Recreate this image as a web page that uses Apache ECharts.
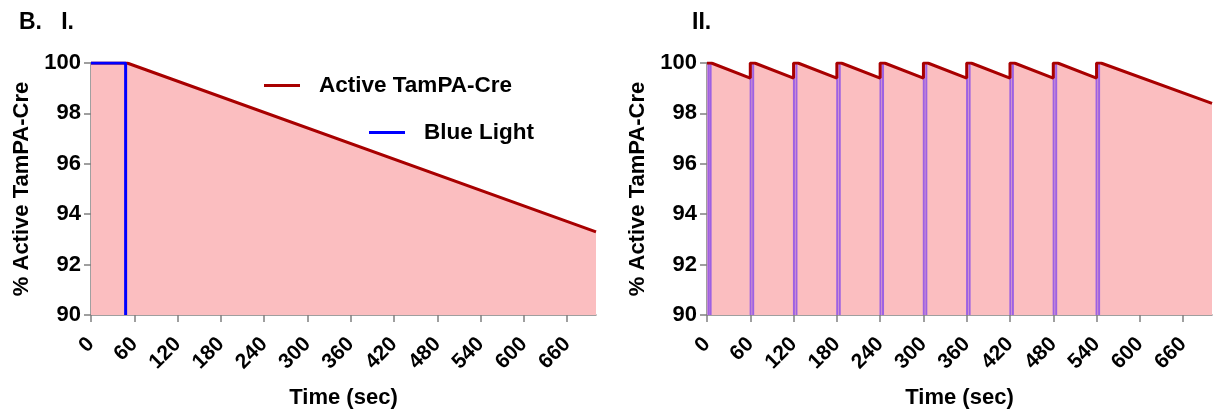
<!DOCTYPE html>
<html><head><meta charset="utf-8">
<script src="https://cdn.jsdelivr.net/npm/echarts@6/dist/echarts.min.js"></script>
<style>html,body{margin:0;padding:0;background:#fff}#c{width:1219px;height:416px}</style>
</head><body><div id="c"></div>
<script>
// ---- data ----
var xTicks = [0, 60, 120, 180, 240, 300, 360, 420, 480, 540, 600, 660];
var yTicks = [90, 92, 94, 96, 98, 100];
// Panel I: single light pulse
var activeI = [[0, 100], [50, 100], [700, 93.3]];
var blueI = [[0, 100], [48, 100], [48, 90]];
// Panel II: repeated light pulses
var activeII = [
  [0, 100], [6, 100], [60, 99.4], [60, 100], [66, 100], [120, 99.4], [120, 100], [126, 100],
  [180, 99.4], [180, 100], [186, 100], [240, 99.4], [240, 100], [246, 100], [300, 99.4],
  [300, 100], [306, 100], [360, 99.4], [360, 100], [366, 100], [420, 99.4], [420, 100],
  [426, 100], [480, 99.4], [480, 100], [486, 100], [540, 99.4], [540, 100], [546, 100],
  [700, 98.4]
];
// each pulse: rise, on, fall ('-' breaks the line between pulses)
var blueII = [
  [2, 90], [2, 100], [5, 100], [5, 90], '-',
  [60.5, 90], [60.5, 100], [64, 100], [64, 90], '-',
  [120.5, 90], [120.5, 100], [124, 100], [124, 90], '-',
  [180.5, 90], [180.5, 100], [184, 100], [184, 90], '-',
  [240.5, 90], [240.5, 100], [244, 100], [244, 90], '-',
  [300.5, 90], [300.5, 100], [304, 100], [304, 90], '-',
  [360.5, 90], [360.5, 100], [364, 100], [364, 90], '-',
  [420.5, 90], [420.5, 100], [424, 100], [424, 90], '-',
  [480.5, 90], [480.5, 100], [484, 100], [484, 90], '-',
  [540, 90], [540, 100], [543.5, 100], [543.5, 90]
];
var seriesNames = ['Active TamPA-Cre', 'Blue Light'];
var panelTitles = ['B.   I.', 'II.'];

// ---- chart ----
var FONT = 'Liberation Sans, Arial, sans-serif';
var RED = '#a80000', FILL = '#fbbec0', BLUE = '#0000ff', AXIS = '#808080';
var chart = echarts.init(document.getElementById('c'), null, {renderer: 'canvas'});
function xAxis(gi) {
  return {
    type: 'value', gridIndex: gi, min: 0, max: 700, interval: 60,
    name: 'Time (sec)', nameLocation: 'middle', nameGap: 72,
    nameTextStyle: {fontFamily: FONT, fontWeight: 'bold', fontSize: 22, color: '#000'},
    axisLine: {lineStyle: {color: AXIS, width: 1.5}},
    axisTick: {customValues: xTicks, length: 7, lineStyle: {color: AXIS, width: 1.5}},
    axisLabel: {customValues: xTicks, rotate: 45, margin: 26, fontFamily: FONT, fontWeight: 'bold', fontSize: 21, color: '#000'},
    splitLine: {show: false}
  };
}
function yAxis(gi) {
  return {
    type: 'value', gridIndex: gi, min: 90, max: 100, interval: 2,
    name: '% Active TamPA-Cre', nameLocation: 'middle', nameGap: 58,
    nameTextStyle: {fontFamily: FONT, fontWeight: 'bold', fontSize: 22, color: '#000'},
    axisLine: {show: true, lineStyle: {color: AXIS, width: 1.5}},
    axisTick: {show: true, length: 7, lineStyle: {color: AXIS, width: 1.5}},
    axisLabel: {customValues: yTicks, margin: 10, fontFamily: FONT, fontWeight: 'bold', fontSize: 22, color: '#000'},
    splitLine: {show: false}
  };
}
chart.setOption({
  animation: false,
  backgroundColor: '#fff',
  title: [
    {text: panelTitles[0], left: 14, top: 6, textStyle: {fontFamily: FONT, fontWeight: 'bold', fontSize: 23, color: '#000'}},
    {text: panelTitles[1], left: 687, top: 6, textStyle: {fontFamily: FONT, fontWeight: 'bold', fontSize: 23, color: '#000'}}
  ],
  legend: [
    {data: [seriesNames[0]], left: 259, top: 69, itemWidth: 36, itemHeight: 3, icon: 'rect',
     textStyle: {fontFamily: FONT, fontWeight: 'bold', fontSize: 22.5, color: '#000', padding: [0, 0, 0, 14]}},
    {data: [seriesNames[1]], left: 364, top: 116, itemWidth: 36, itemHeight: 3, icon: 'rect',
     textStyle: {fontFamily: FONT, fontWeight: 'bold', fontSize: 22.5, color: '#000', padding: [0, 0, 0, 14]}}
  ],
  grid: [
    {left: 91, top: 63, width: 505, height: 252},
    {left: 707, top: 63, width: 505, height: 252}
  ],
  xAxis: [xAxis(0), xAxis(1)],
  yAxis: [yAxis(0), yAxis(1)],
  series: [
    {name: seriesNames[0], type: 'line', xAxisIndex: 0, yAxisIndex: 0, data: activeI, showSymbol: false, z: 2,
     lineStyle: {color: RED, width: 3}, itemStyle: {color: RED}, areaStyle: {color: FILL, opacity: 1, origin: 'start'}},
    {name: seriesNames[1], type: 'line', xAxisIndex: 0, yAxisIndex: 0, data: blueI, showSymbol: false, z: 3,
     lineStyle: {color: BLUE, width: 3}, itemStyle: {color: BLUE}},
    // panel II: fill below, pulses in the middle, red line on top
    {name: 'fillII', type: 'line', xAxisIndex: 1, yAxisIndex: 1, data: activeII, showSymbol: false, z: 1,
     lineStyle: {width: 0, opacity: 0}, areaStyle: {color: FILL, opacity: 1, origin: 'start'}, silent: true},
    {name: seriesNames[1], type: 'line', xAxisIndex: 1, yAxisIndex: 1, data: blueII, showSymbol: false, z: 3,
     connectNulls: false,
     lineStyle: {color: 'rgba(80,20,255,0.55)', width: 2}, itemStyle: {color: BLUE}},
    {name: seriesNames[0], type: 'line', xAxisIndex: 1, yAxisIndex: 1, data: activeII, showSymbol: false, z: 4,
     lineStyle: {color: RED, width: 3}, itemStyle: {color: RED}}
  ]
});
</script></body></html>
